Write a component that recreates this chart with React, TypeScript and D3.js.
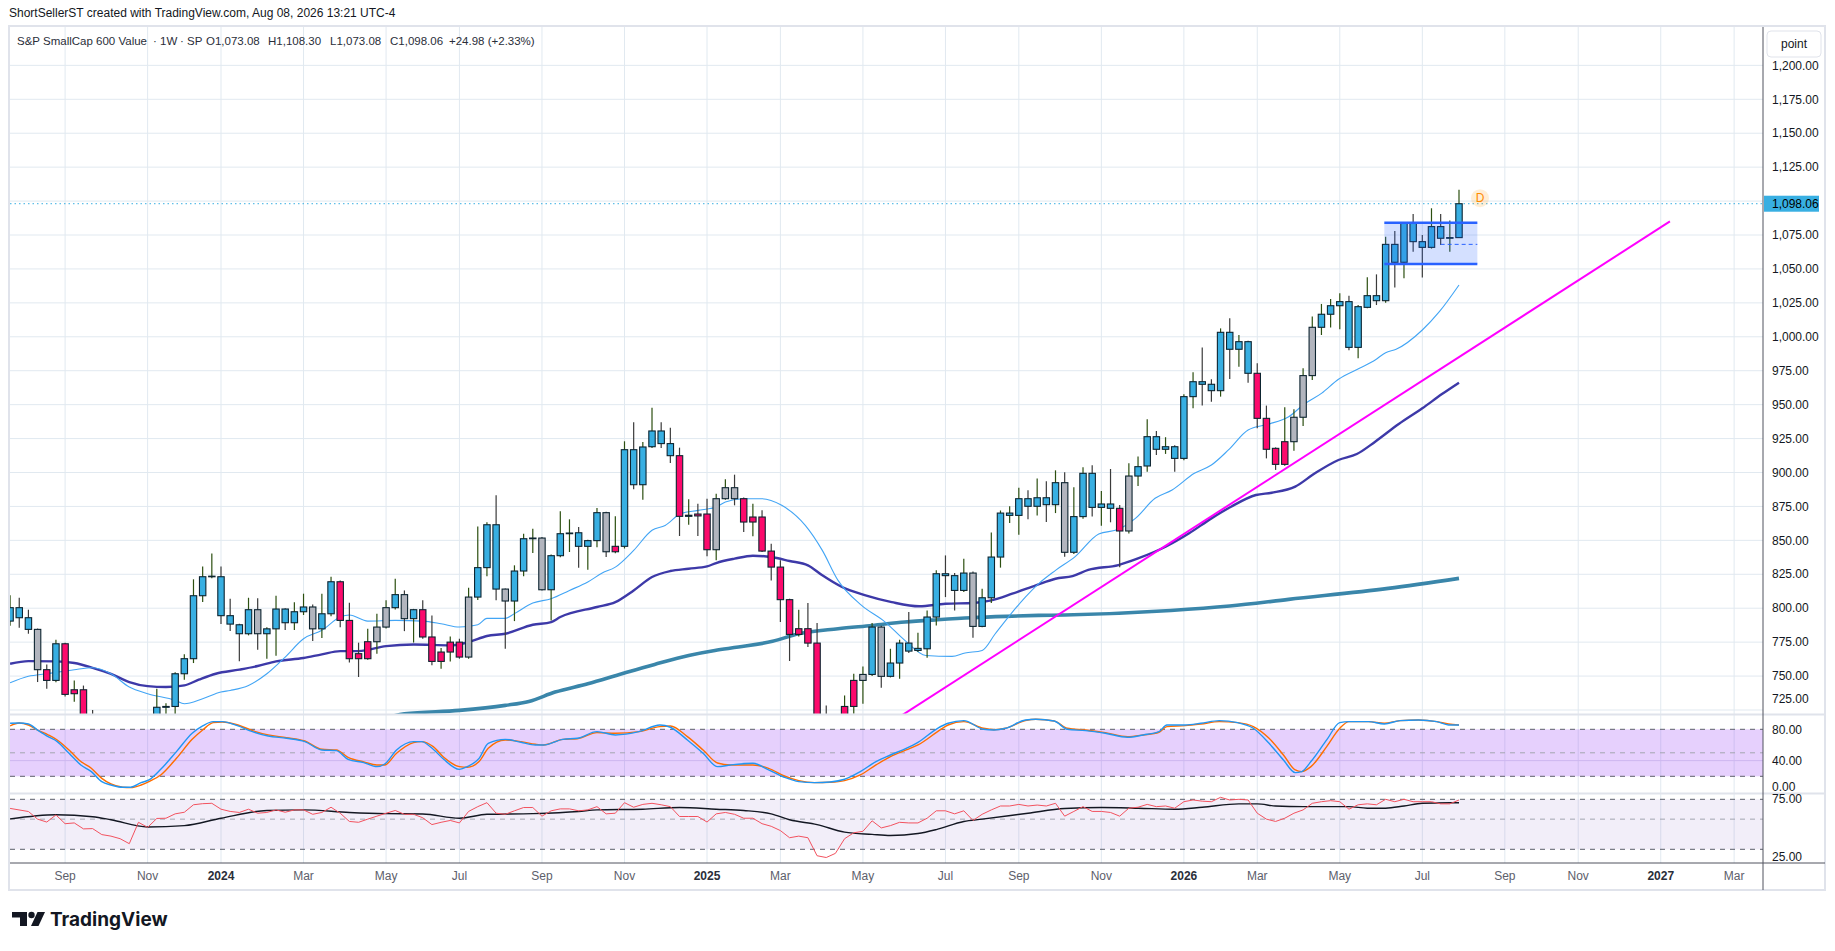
import * as d3 from 'd3';

// Weekly bars of S&P SmallCap 600 Value, first bar = week of 2023-07-24
const firstWeek = new Date(Date.UTC(2023, 6, 24));
const lastWeek = new Date(Date.UTC(2026, 7, 3));
// week offsets used by the indicator lists count from this Monday
const origin = new Date(Date.UTC(2024, 0, 1));

const opens = [
  790.5, 800.4, 793, 784.4, 754.7, 746.8, 773.8, 737, 739.9, 716,
  708, 695, 700, 684, 676, 708, 702, 727, 727.6, 751.7,
  762.8, 809.2, 823.2, 823.2, 794.5, 787.8, 781.2, 798.9, 781.2, 784.8,
  799.4, 789.3, 797.4, 800.9, 784.8, 795.9, 819.5, 791, 766.5, 762.8,
  775.3, 786.1, 800.4, 810, 792.3, 798.9, 778.8, 760.8, 767.7, 775,
  764, 808.2, 829.9, 861.5, 814.1, 805.3, 827.4, 851.2, 851.7, 813.6,
  838.7, 854.9, 855.6, 845.6, 849.8, 870.4, 841.6, 845.6, 916.8, 891,
  919, 930.6, 921.3, 912.4, 867.7, 869.4, 869.4, 843.1, 880.7, 888.8,
  880.7, 863.5, 867.2, 842.1, 830.3, 806.3, 780.7, 784.9, 774.3, 703,
  700, 706, 727.6, 746.8, 751.2, 786.1, 749.8, 759.6, 774.3, 768.9,
  770.1, 793.5, 825.4, 824, 813.1, 825.9, 786.6, 807.7, 837.7, 868.4,
  868.4, 880.7, 875.1, 881.4, 876.3, 892.5, 841.2, 867.5, 899.4, 874.3,
  876.8, 873.6, 856.9, 897.4, 904.8, 926.4, 917.1, 919, 910.4, 955.9,
  966.9, 965, 960.3, 1003.3, 990.8, 996.4, 973.1, 939.9, 917.8, 906,
  922.7, 940.7, 971.4, 1007, 1016.6, 1022.9, 1025.9, 992.2, 1021.7, 1030.3,
  1026.6, 1068.1, 1054.9, 1083.6, 1070.1, 1065.9, 1081.2, 1072.6, 1073.08,
];
const highs = [
  809.5, 807.7, 798.9, 785, 758.6, 776.7, 774.5, 746.8, 743, 725,
  712, 712, 705, 690, 712, 712, 740.7, 730, 752.8, 766,
  821.3, 830.8, 840.4, 830.8, 807, 788.5, 807.7, 807.3, 786, 809.2,
  800, 804.3, 810.7, 802.8, 810.7, 823.2, 820.5, 804, 774.6, 784.9,
  795.9, 805.8, 821.7, 813.1, 799.5, 805.8, 794.7, 770.6, 779.2, 777.5,
  815.1, 860.3, 863.3, 883.2, 814.5, 831.6, 854.9, 858.6, 852.5, 839.5,
  871.4, 865.5, 859.8, 850.5, 873.8, 871, 867.7, 923, 937, 922.5,
  947.8, 937, 933, 918.3, 880.2, 877, 880.7, 884.4, 895, 898.4,
  881.5, 877, 872.1, 847.5, 835.3, 807, 798.9, 803.8, 789.1, 728.4,
  718, 735.7, 751.7, 757.1, 789.1, 787, 770.1, 776.8, 797.2, 782,
  798.4, 827.9, 838.9, 826, 836.5, 827, 814.4, 855.7, 872, 875.1,
  888.8, 886.9, 895.5, 893.5, 901.6, 900.1, 889.1, 903.8, 905.3, 886.4,
  902.6, 876, 906.8, 911.7, 939.2, 930.6, 926, 920, 957.6, 973.8,
  992.2, 968.7, 1006.2, 1013.6, 1001.3, 997, 980.5, 949.3, 918.5, 948,
  946.6, 976.8, 1014.9, 1024.2, 1027.8, 1032, 1030.2, 1023.4, 1043.8, 1046,
  1073.8, 1078, 1084, 1090.5, 1075, 1094.7, 1090.5, 1085.6, 1108.3,
];
const lows = [
  787, 785.6, 781.2, 745.6, 740.7, 745.5, 735, 731, 712, 700,
  690, 692, 682, 672, 674, 698, 700, 719, 721, 747.3,
  759.6, 804.5, 822, 788.3, 783.2, 761, 780, 769.4, 762.8, 765,
  784, 784, 795, 775.8, 778, 794, 786, 760, 749.3, 762,
  766.5, 785, 799, 783.1, 774.7, 777.5, 757.9, 755.4, 760.8, 762.8,
  762.8, 806, 823.5, 805.8, 770.1, 790.5, 823.5, 840.7, 813, 791,
  837.6, 841.4, 829.9, 828.4, 845, 837.7, 840.5, 844, 887.6, 880,
  918, 918, 907, 853.2, 861.5, 853.2, 838.2, 835.3, 880, 875.8,
  856.1, 853, 841.4, 820.5, 789.8, 761.1, 779.2, 771.4, 700, 672,
  688, 700, 722.2, 729.6, 750, 741.4, 749, 748, 767, 767.7,
  763.5, 787.3, 808.2, 798.4, 812, 778.3, 786, 803.8, 829.9, 862.8,
  854.2, 865.5, 868.4, 863.5, 870.1, 838, 840, 866, 867.5, 860.8,
  863.3, 830.1, 855, 890.1, 900.6, 912.9, 913.7, 900.6, 909, 947.3,
  949.3, 952.2, 955.9, 968.9, 978, 966.2, 932.6, 910.4, 901.9, 905,
  916.1, 934.3, 968.2, 1001.3, 1006.8, 1005.5, 990, 984.1, 1021, 1023.4,
  1025, 1036.4, 1043.1, 1062.7, 1043.6, 1065, 1067.7, 1062.7, 1073.08,
];
const closes = [
  800.4, 793, 784.4, 754.7, 746.8, 773.8, 736.5, 739.9, 716, 708,
  695, 700, 684, 676, 708, 702, 727, 727.6, 751.7, 762.8,
  809.2, 823.2, 823.6, 794.5, 788.3, 781.2, 798.9, 781.2, 784.8, 799.4,
  789.3, 797.4, 800.9, 784.8, 795.9, 819.5, 791, 762.8, 762.8, 775.3,
  786.1, 800.4, 810, 792.3, 798.9, 778.8, 760.8, 767.7, 775, 764,
  808.2, 829.9, 861.5, 814.1, 805.3, 827.4, 851.2, 851.7, 813.6, 838.7,
  854.9, 855.4, 845.6, 849.8, 870.4, 841.6, 845.6, 916.8, 891, 918.8,
  930.6, 921.3, 912.4, 867.7, 868.5, 868, 843.1, 880.7, 888.8, 880.7,
  863.5, 867.2, 842.1, 830.3, 806.3, 780.7, 784.9, 774.3, 703, 700,
  706, 727.6, 746.8, 751.2, 786.1, 749.8, 759.6, 774.3, 768.4, 770.4,
  793.5, 825.4, 824, 813.1, 825.9, 786.6, 807.7, 837.7, 870.1, 870.1,
  880.7, 875.1, 881.4, 876.3, 892.5, 841.2, 867.5, 899.4, 874.3, 876.8,
  873.6, 856.9, 897.4, 904.3, 926.4, 917.1, 919, 910.4, 955.9, 966.9,
  965, 960.3, 1003.3, 990.8, 996.4, 973.1, 939.9, 917.1, 906, 922.7,
  940.7, 971.4, 1007, 1016.6, 1022.9, 1025.9, 992.2, 1022.2, 1030.3, 1026.6,
  1068.1, 1054.9, 1083.6, 1070.1, 1065.9, 1081.2, 1072.6, 1073.08, 1098.06,
];
// bar colouring of the chart: b = blue, p = pink, g = grey
const tones =
  'bbbgpbpppp' + 'ppppbbbbbb' + 'bbbbbbbgbb' + 'bbbgbbpppp' + 'ggbgbppppp' +
  'gbbbgbbbgb' + 'bbbbbgpbbb' + 'bbbpbppggg' + 'pppppppppp' + 'pppgbgbbbb' +
  'bbbbbgbbbb' + 'bbbbbgbbbb' + 'bpgbbbbbbb' + 'bbbbbbpppp' + 'gggbbbbbbb' +
  'bbbbbbbbb';

// moving averages on price, [week offset, value]
const maFast: [number, number][] = [
  [-23, 745], [-21, 749.8], [-19, 751.7], [-16, 754.7], [-14, 756.1], [-12, 751.7], [-10, 741.9],
  [-8, 737], [-5, 732.1], [-4, 729.6], [-2, 733.3], [0, 738.2], [1, 739.4], [3, 743.1], [5, 751.7],
  [7, 764], [9, 777.5], [11, 783.7], [13, 793.5], [14, 795], [16, 790.5], [19, 791], [22, 790.5],
  [24, 788.6], [26, 786.1], [28, 787.8], [29, 792.5], [31, 792.5], [32, 796], [34, 803.8], [36, 807],
  [38, 813.1], [40, 819.3], [41.5, 825.9], [43, 830.3], [45, 842.6], [47, 857.4], [48.4, 861],
  [50.2, 869.7], [52, 872.1], [54, 874.6], [55, 878.3], [57, 880.7], [59, 880.7], [61.2, 875.8],
  [63.7, 861], [65.5, 842.6], [67.3, 820.5], [69.9, 802.1], [72.4, 789.8], [74.6, 776.3], [76.8, 765.2],
  [79.7, 764.5], [81.1, 767], [83, 768.9], [84.4, 781.2], [85.9, 793.5], [87.7, 808.2], [89.2, 818],
  [91, 827.9], [93.1, 838], [95.7, 854.7], [97.9, 858.1], [99.7, 866.2], [101.9, 881], [103.7, 887.1],
  [106.2, 899.4], [108, 905.5], [109.9, 916.6], [112, 931.3], [114.2, 935.5], [116.4, 941.1],
  [118.2, 950.5], [120, 958.3], [121.9, 968.7], [124.1, 976.8], [125.9, 982.9], [127, 988.3],
  [128.1, 990.8], [131, 1005], [132.8, 1018.5], [135, 1038.2],
];
const maMid: [number, number][] = [
  [-23, 759.1], [-21, 761], [-18, 760.8], [-16, 759.6], [-14, 756.1], [-12, 751.7], [-10, 745.6],
  [-8, 742.6], [-6, 741.9], [-4, 743.1], [-2.5, 747.3], [-0.6, 751.7], [2, 754.7], [4, 757.4],
  [6, 760.8], [9, 763.3], [11, 766], [13, 768.4], [15, 768.4], [18, 772.1], [21, 773.3], [25, 772.6],
  [27, 775], [29, 779.5], [31, 781.2], [34, 787.8], [36, 789.8], [37, 793.5], [41, 800.9], [43, 804.5],
  [45, 813.1], [47, 823], [49, 827.4], [51, 829.1], [53, 830.8], [54, 833.3], [56, 836.5], [58, 838.7],
  [60, 837.7], [62, 834.8], [64, 831.6], [65.5, 824.2], [67.7, 815.6], [70.3, 809.5], [73.2, 804.5],
  [76.1, 801.4], [79, 803.3], [82, 803.8], [84, 805.8], [86.3, 810.7], [88.8, 816.8], [91, 821.7],
  [92.8, 823.7], [94.6, 828.2], [97.9, 831.8], [100, 836.7], [103, 845.3], [105.5, 855.2], [108, 866.2],
  [110.2, 874.8], [112.8, 883.4], [114.6, 885.1], [117.1, 889.6], [119.3, 899.4], [121.9, 909.2],
  [123.8, 913.6], [125.9, 922.7], [128.4, 935.7], [131, 947.3], [133.1, 957.8], [135, 966.2],
];
const maSlow: [number, number][] = [
  [17, 717], [20, 722.2], [26, 724.7], [31, 728.4], [33.5, 731.3], [36.4, 738.2], [40, 744.3],
  [43.7, 751.7], [47.3, 758.6], [51, 765.2], [53.9, 768.9], [56.4, 771.4], [60.1, 775.6], [63, 781.2],
  [67.3, 784.9], [71, 787.3], [74.6, 789.8], [78.2, 791.5], [81.9, 793], [85.5, 794], [89.2, 794.7],
  [92, 795], [103.5, 798.3], [110, 801.6], [116.4, 806.5], [127.3, 814.6], [135, 822],
];

// stochastic %K / %D
const stochK: [number, number][] = [
  [-23, 87.7], [-22, 88], [-21, 86.8], [-20, 79], [-18.9, 70.6], [-17.8, 64.3], [-16.6, 49.4],
  [-15.3, 34.5], [-14.1, 26], [-13, 13.2], [-12, 8.9], [-10.7, 6], [-9.9, 6], [-8.7, 11.9],
  [-7.8, 15.3], [-6.6, 28.9], [-4.9, 51.5], [-3.2, 74.9], [-2, 84.3], [-0.9, 89.8], [0.1, 89.8],
  [1.8, 84.3], [3.4, 77], [5.1, 71.5], [7.2, 68.5], [9.1, 64.3], [11, 53.6], [12.6, 52.8], [13.9, 41.7],
  [15.6, 37.4], [17, 32.3], [17.8, 35.7], [19.1, 53.6], [21, 64.3], [21.8, 64.3], [23.1, 54.5],
  [24.3, 41.7], [26, 28.9], [26.8, 32.3], [28.1, 42.9], [29.1, 62.1], [31, 67.2], [32.7, 63.4],
  [34.3, 60], [35.2, 60], [37.3, 67.2], [38.9, 68.5], [41, 77], [43, 72.8], [45.5, 77], [47.8, 85.5],
  [49, 82.6], [50.9, 66.4], [52.6, 49.4], [54.1, 32.3], [55.5, 34.5], [58, 36.6], [59.7, 28.1],
  [61.4, 18.7], [63, 13.2], [64.7, 11.9], [66.4, 12.8], [68, 16.2], [69.7, 26], [71.4, 38.8], [73, 47.2],
  [74.7, 55.7], [76, 63.4], [78.1, 81.3], [79.3, 87.7], [81, 91.1], [83.1, 80], [84.3, 79.1],
  [85.6, 81.3], [87.7, 91.9], [88.9, 92.8], [90.8, 90.6], [92.3, 80], [94.3, 78.3], [96.4, 74.9],
  [98.9, 69.8], [100.6, 72.8], [102.3, 77], [103.1, 85.5], [105.2, 85.5], [106.8, 87.7], [108.8, 91.1],
  [110.9, 88.5], [112.6, 81.3], [114.3, 62.1], [115.9, 40.8], [117.2, 24.7], [117.8, 26], [118.9, 38.8],
  [120.5, 66.4], [122, 88.5], [123, 89.8], [125.1, 89.8], [126.8, 86.8], [128.5, 91.1], [130.5, 91.9],
  [132.6, 89.8], [133.9, 85.5], [135, 85.5],
];
const stochD: [number, number][] = [
  [-23, 84.3], [-22, 88], [-21, 85.5], [-20, 79], [-18.9, 73], [-17.8, 66.4], [-16.6, 53.6],
  [-15.3, 38.8], [-14.1, 30.2], [-13, 17.4], [-12, 10.2], [-10.7, 6], [-9.9, 5.6], [-8.7, 8.9],
  [-7.8, 13.2], [-6.6, 21.7], [-4.9, 43], [-3.2, 67.2], [-2, 79.1], [-0.9, 88.5], [0.1, 89.4],
  [1.8, 85.5], [3.4, 78.3], [5.1, 72.8], [7.2, 69.4], [9.1, 65.1], [11, 54.5], [12.6, 53.6], [13.9, 44.3],
  [15.6, 38.3], [17, 34.5], [17.8, 34.5], [19.1, 49.4], [21, 63], [21.8, 64.3], [23.1, 57.9],
  [24.3, 44.3], [26, 32.3], [26.8, 31.5], [28.1, 38.8], [29.1, 55.7], [31, 66.4], [32.7, 64.3],
  [34.3, 60.9], [35.2, 60], [37.3, 67.2], [38.9, 68], [41, 75.7], [43, 74.9], [45.5, 77], [47.8, 83.4],
  [49, 84.3], [50.9, 70.6], [52.6, 53.6], [54.1, 37], [55.5, 34.5], [58, 34.5], [59.7, 30.2],
  [61.4, 20.4], [63, 14.5], [64.7, 11.9], [66.4, 12.4], [68, 14.5], [69.7, 21.7], [71.4, 34.5], [73, 45.1],
  [74.7, 53.6], [76, 60], [78.1, 77], [79.3, 85.5], [81, 89.8], [83.1, 81.3], [84.3, 79.5],
  [85.6, 81.3], [87.7, 91.1], [88.9, 92.8], [90.8, 90.6], [92.3, 81.3], [94.3, 79.1], [96.4, 75.7],
  [98.9, 70.6], [100.6, 72.8], [102.3, 76.2], [103.1, 83.4], [105.2, 84.7], [106.8, 86.8], [108.8, 89.8],
  [110.9, 88.5], [112.6, 83.4], [114.3, 68.5], [115.9, 47.2], [117.2, 28.1], [117.8, 26], [118.9, 32.3],
  [120.5, 57.9], [122, 81.3], [123, 89.8], [125.1, 89.8], [126.8, 87.7], [128.5, 91.1], [130.5, 91.9],
  [132.6, 89.8], [133.9, 86.8], [135, 85.5],
];

// RSI and its moving average (log-scaled pane)
const rsiLine: [number, number][] = [
  [-23, 60], [-21, 56.9], [-20, 50], [-19, 47.6], [-18, 53.7], [-17, 46.3], [-16, 46.9], [-15, 42.4],
  [-14, 42.6], [-13, 38.5], [-12, 37.5], [-11, 35.9], [-10, 33], [-9, 47.4], [-8, 43.5], [-7, 50.6],
  [-6, 50.8], [-5, 54.7], [-4, 56.2], [-3, 63.8], [-2, 65], [-1, 65.4], [0, 59.2], [1, 57], [2, 56],
  [3, 59.2], [4, 55.3], [5, 56], [6, 58.5], [7, 56.2], [8, 58.5], [9, 58.5], [10, 54.3], [11, 56],
  [12, 61.2], [13, 55.3], [14, 48.1], [15, 47.4], [16, 50], [17, 52.6], [18, 55.3], [19, 57.9],
  [20, 54.3], [21, 54.3], [22, 51.2], [23, 45.6], [24, 47.4], [25, 48.9], [26, 46.9], [27, 57],
  [28, 61.8], [29, 66.1], [30, 55.3], [31, 54.3], [32, 57.6], [33, 60.9], [34, 60.9], [35, 52.6],
  [36, 57.6], [37, 59.5], [38, 59.5], [39, 57.6], [40, 58.5], [41, 61.8], [42, 54.7], [43, 55.3],
  [44, 66.1], [45, 61.2], [46, 64.2], [47, 65.4], [48, 63.8], [49, 61.8], [50, 52.3], [51, 52.3],
  [52, 52.3], [53, 47.6], [54, 54.7], [55, 56], [56, 54.3], [57, 50.8], [58, 50.8], [59, 46.3],
  [60, 44.3], [61, 41.2], [62, 36.5], [63, 37.5], [64, 36.5], [65, 26.9], [66, 26.1], [67, 28],
  [68, 35.9], [69, 39.7], [70, 40.7], [71, 48.6], [72, 43.1], [73, 44.8], [74, 47.4], [75, 46.9],
  [76, 46.9], [77, 50.8], [78, 57.6], [79, 57.6], [80, 54.7], [81, 57.6], [82, 48.9], [83, 54.3],
  [84, 58.5], [85, 62.5], [86, 62.5], [87, 64.2], [88, 62.5], [89, 63.5], [90, 62.5], [91, 65.4],
  [92, 52.6], [93, 57], [94, 61.8], [95, 57], [96, 57], [97, 56], [98, 52.6], [99, 60.2], [100, 61.2],
  [101, 64.2], [102, 61.8], [103, 62.5], [104, 60.2], [105, 67.2], [106, 69.2], [107, 67.8],
  [108, 67.2], [109, 72.4], [110, 69.2], [111, 70], [112, 69.2], [113, 55.3], [114, 50], [115, 48.1],
  [116, 50.8], [117, 55.3], [118, 58.5], [119, 65.4], [120, 67.2], [121, 68.4], [122, 67.2],
  [123, 59.2], [124, 63.8], [125, 64.8], [126, 63.8], [127, 70], [128, 67.2], [129, 70], [130, 67.2],
  [131, 67.2], [132, 67.2], [133, 64.8], [134, 64.8], [135, 69.2],
];
const rsiAvg: [number, number][] = [
  [-23, 50.2], [-18, 53.9], [-14, 52.1], [-12, 49.5], [-8, 43.8], [-4, 44.8], [0, 50.8], [5, 57.9],
  [9, 58.5], [14, 56], [18, 54.9], [22, 54.6], [26, 50.8], [29, 54.3], [34, 54.9], [39, 56.9],
  [41, 58.5], [46, 59.2], [50, 60.9], [54, 59.2], [57, 57.9], [60, 54.7], [62, 49.5], [65, 45.6],
  [68, 40.1], [71, 38.6], [73, 37.9], [76, 39.2], [78, 41.9], [81, 48.1], [83, 50], [88, 55.3],
  [92, 59.9], [96, 60.9], [100, 60.2], [104, 59.2], [107, 61.2], [111, 64.8], [113, 64.8], [115, 62.5],
  [118, 61.8], [123, 61.8], [125, 60.2], [127, 60.2], [129, 62.5], [131, 65.4], [134, 66.1], [135, 66.1],
];

// drawings
const trendline: [number, number][] = [[74, 720], [158, 1085]];
const boxWeeks = [126.8, 137];
const boxPrices = [1084.1, 1053.6];
const boxMid = { from: 133, price: 1068.1 };
const lastPrice = 1098.06;

const priceTicks = [725, 750, 775, 800, 825, 850, 875, 900, 925, 950, 975, 1000, 1025, 1050, 1075, 1100, 1125, 1150, 1175, 1200];
const timeTicks = [
  '2023-09', '2023-11', '2024-01', '2024-03', '2024-05', '2024-07', '2024-09', '2024-11',
  '2025-01', '2025-03', '2025-05', '2025-07', '2025-09', '2025-11', '2026-01', '2026-03',
  '2026-05', '2026-07', '2026-09', '2026-11', '2027-01', '2027-03',
];
const stochBands = [80, 50, 20];
const rsiBands = [70, 50, 30];
const stochLabels = [80, 40, 0];
const rsiLabels = [75, 25];

// layout
const W = 1835;
const H = 951;
const left = 10;
const axisX = 1763;
const frameRight = 1825;
const mainTop = 27;
const mainBottom = 714;
const stochTop = 715;
const stochBottom = 793;
const rsiTop = 794;
const rsiBottom = 863;
const axisBottom = 890;
const font = "'Liberation Sans', Arial, sans-serif";

const weekDate = (w: number) => d3.utcDay.offset(origin, Math.round(w * 7));
const x = d3.scaleUtc().domain([origin, lastWeek]).range([221, 1459]);
const y = d3.scaleLinear().domain([900, 1175]).range([472.5, 99.3]);
const yStoch = d3.scaleLinear().domain([20, 80]).range([776.3, 729.3]);
const yRsi = d3.scaleLog().domain([30, 70]).range([849.3, 799.3]);
const fmt = d3.format(',.2f');

const bars = d3.utcMonday.range(firstWeek, d3.utcDay.offset(lastWeek, 1));
const toneFill: Record<string, string> = { b: '#38afe2', p: '#fc0a6c', g: '#b2b5be' };

const tickDates = timeTicks.map((s) => {
  const [yr, mo] = s.split('-').map(Number);
  return { date: d3.utcMonday.ceil(new Date(Date.UTC(yr, mo - 1, 1))), year: mo === 1, text: mo === 1 ? String(yr) : d3.utcFormat('%b')(new Date(Date.UTC(yr, mo - 1, 1))) };
});

const pathFor = (pts: [number, number][], yScale: (v: number) => number, curve: d3.CurveFactory) =>
  d3.line<[number, number]>()
    .x((d) => x(weekDate(d[0])))
    .y((d) => yScale(d[1]))
    .curve(curve)(pts) || '';

// axis labels sitting on a pane edge are nudged inside their pane (they are clipped there)
const edgeLabelY = (v: number, yy: number, top: number, bottom: number) =>
  Math.max(top + 5, Math.min(bottom - 6, yy));

const App = () => {
  const bw = 6.4;
  const lastX = x(lastWeek);
  return (
    <div style={{ position: 'absolute', left: 0, top: 0 }}>
      <svg width={W} height={H} style={{ display: 'block', background: '#fff' }} fontFamily={font}>
        <defs>
          <clipPath id="clip-main"><rect x={left} y={mainTop} width={axisX - left} height={mainBottom - mainTop} /></clipPath>
          <clipPath id="clip-stoch"><rect x={left} y={stochTop} width={axisX - left} height={stochBottom - stochTop} /></clipPath>
          <clipPath id="clip-rsi"><rect x={left} y={rsiTop} width={axisX - left} height={rsiBottom - rsiTop} /></clipPath>
          <clipPath id="clip-axis-main"><rect x={axisX} y={mainTop} width={frameRight - axisX} height={mainBottom - mainTop} /></clipPath>
          <clipPath id="clip-axis-stoch"><rect x={axisX} y={stochTop} width={frameRight - axisX} height={stochBottom - stochTop} /></clipPath>
          <clipPath id="clip-axis-rsi"><rect x={axisX} y={rsiTop} width={frameRight - axisX} height={rsiBottom - rsiTop} /></clipPath>
        </defs>

        <text x={9} y={17} fontSize={12} fill="#131722">ShortSellerST created with TradingView.com, Aug 08, 2026 13:21 UTC-4</text>

        <rect x={9} y={mainTop - 1} width={frameRight - 9} height={axisBottom - mainTop + 1} fill="none" stroke="#e0e3eb" strokeWidth={2} />

        {/* main pane */}
        <g clipPath="url(#clip-main)">
          {tickDates.map((t) => (
            <line key={t.text + t.date.getTime()} x1={x(t.date)} x2={x(t.date)} y1={mainTop} y2={mainBottom} stroke="#e1e9f0" />
          ))}
          {priceTicks.map((p) => (
            <line key={p} x1={left} x2={axisX} y1={y(p)} y2={y(p)} stroke="#e1e9f0" />
          ))}
          <line x1={left} x2={axisX} y1={y(lastPrice)} y2={y(lastPrice)} stroke="#38afe2" strokeDasharray="1.5,3" />
          <path d={pathFor(maSlow, y, d3.curveMonotoneX)} fill="none" stroke="#3a86aa" strokeWidth={3.6} />
          <path d={pathFor(maMid, y, d3.curveMonotoneX)} fill="none" stroke="#3d39a8" strokeWidth={2.4} />
          <path d={pathFor(maFast, y, d3.curveMonotoneX)} fill="none" stroke="#42a5f5" strokeWidth={1.1} />
          <path d={pathFor(trendline, y, d3.curveLinear)} fill="none" stroke="#ff00ff" strokeWidth={2} />
          {bars.map((d, i) => {
            const o = opens[i], c = closes[i];
            const cx = x(d);
            const top = y(Math.max(o, c));
            const h = Math.max(0.6, Math.abs(y(o) - y(c)));
            return (
              <g key={i}>
                <line x1={cx} x2={cx} y1={y(highs[i])} y2={y(lows[i])} stroke={c >= o ? '#2c4f10' : '#3b3b3b'} strokeWidth={1.2} />
                <rect x={cx - bw / 2} y={top} width={bw} height={h} fill={toneFill[tones[i]]} stroke="#0d2430" strokeWidth={1.1} />
              </g>
            );
          })}
          <rect x={x(weekDate(boxWeeks[0]))} y={y(boxPrices[0])} width={x(weekDate(boxWeeks[1])) - x(weekDate(boxWeeks[0]))}
            height={y(boxPrices[1]) - y(boxPrices[0])} fill="rgba(41,98,255,0.2)" />
          {boxPrices.map((p) => (
            <line key={p} x1={x(weekDate(boxWeeks[0]))} x2={x(weekDate(boxWeeks[1]))} y1={y(p)} y2={y(p)} stroke="#2962ff" strokeWidth={2.5} />
          ))}
          <line x1={x(weekDate(boxMid.from))} x2={x(weekDate(boxWeeks[1]))} y1={y(boxMid.price)} y2={y(boxMid.price)} stroke="#2962ff" strokeDasharray="4,3" />
        </g>
        <circle cx={lastX + 21} cy={y(lastPrice) - 5.5} r={9} fill="rgba(255,152,0,0.16)" />
        <text x={lastX + 21} y={y(lastPrice) - 1.5} fontSize={12} fill="#ff8a00" textAnchor="middle">D</text>

        {/* legend */}
        <g fontSize={11.5} fill="#2a2e39">
          <text x={17} y={45}>S&amp;P SmallCap 600 Value</text>
          <text x={153} y={45}>·</text>
          <text x={160} y={45}>1W</text>
          <text x={180} y={45}>·</text>
          <text x={187} y={45}>SP</text>
          <text x={206} y={45}>O{fmt(opens[opens.length - 1])}</text>
          <text x={268} y={45}>H{fmt(highs[highs.length - 1])}</text>
          <text x={330} y={45}>L{fmt(lows[lows.length - 1])}</text>
          <text x={390} y={45}>C{fmt(closes[closes.length - 1])}</text>
          <text x={449} y={45}>+24.98 (+2.33%)</text>
        </g>

        {/* stochastic pane */}
        <g clipPath="url(#clip-stoch)">
          {tickDates.map((t) => (
            <line key={t.text + t.date.getTime()} x1={x(t.date)} x2={x(t.date)} y1={stochTop} y2={stochBottom} stroke="#e1e9f0" />
          ))}
          <rect x={left} y={yStoch(80)} width={axisX - left} height={yStoch(20) - yStoch(80)} fill="rgba(150,60,245,0.24)" />
          <line x1={left} x2={axisX} y1={yStoch(40)} y2={yStoch(40)} stroke="#cdb6ef" />
          {stochBands.map((b) => (
            <line key={b} x1={left} x2={axisX} y1={yStoch(b)} y2={yStoch(b)} stroke={b === 50 ? '#a3a6b0' : '#5d606b'} strokeDasharray="5,5" />
          ))}
          <path d={pathFor(stochD, yStoch, d3.curveMonotoneX)} fill="none" stroke="#ff6d00" strokeWidth={1.4} />
          <path d={pathFor(stochK, yStoch, d3.curveMonotoneX)} fill="none" stroke="#2196f3" strokeWidth={1.4} />
        </g>

        {/* RSI pane */}
        <g clipPath="url(#clip-rsi)">
          {tickDates.map((t) => (
            <line key={t.text + t.date.getTime()} x1={x(t.date)} x2={x(t.date)} y1={rsiTop} y2={rsiBottom} stroke="#e1e9f0" />
          ))}
          <rect x={left} y={yRsi(70)} width={axisX - left} height={yRsi(30) - yRsi(70)} fill="rgba(126,87,194,0.1)" />
          {rsiBands.map((b) => (
            <line key={b} x1={left} x2={axisX} y1={yRsi(b)} y2={yRsi(b)} stroke={b === 50 ? '#a3a6b0' : '#5d606b'} strokeDasharray="5,5" />
          ))}
          <path d={pathFor(rsiAvg, yRsi, d3.curveMonotoneX)} fill="none" stroke="#131722" strokeWidth={1.4} />
          <path d={pathFor(rsiLine, yRsi, d3.curveLinear)} fill="none" stroke="#f2525f" strokeWidth={1} />
        </g>

        {/* pane separators and axes */}
        <line x1={left} x2={frameRight} y1={mainBottom + 0.5} y2={mainBottom + 0.5} stroke="#e0e3eb" strokeWidth={2} />
        <line x1={left} x2={frameRight} y1={stochBottom + 0.5} y2={stochBottom + 0.5} stroke="#e0e3eb" strokeWidth={2} />
        <line x1={left} x2={frameRight} y1={rsiBottom} y2={rsiBottom} stroke="#50535e" />
        <line x1={axisX} x2={axisX} y1={mainTop} y2={axisBottom} stroke="#50535e" />

        <g fontSize={12} fill="#131722">
          <g clipPath="url(#clip-axis-main)">
            {priceTicks.map((p) => (
              <text key={p} x={axisX + 9} y={Math.min(y(p), mainBottom - 15)} dy="0.35em">{fmt(p)}</text>
            ))}
          </g>
          <g clipPath="url(#clip-axis-stoch)">
            {stochLabels.map((v) => (
              <text key={v} x={axisX + 9} y={edgeLabelY(v, yStoch(v), stochTop, stochBottom)} dy="0.35em">{fmt(v)}</text>
            ))}
          </g>
          <g clipPath="url(#clip-axis-rsi)">
            {rsiLabels.map((v) => (
              <text key={v} x={axisX + 9} y={edgeLabelY(v, yRsi(v), rsiTop, rsiBottom)} dy="0.35em">{fmt(v)}</text>
            ))}
          </g>
        </g>

        <rect x={axisX + 4} y={mainTop + 4} width={54} height={26} rx={4} fill="#fff" stroke="#e0e3eb" />
        <text x={axisX + 31} y={mainTop + 17} dy="0.35em" fontSize={12} fill="#131722" textAnchor="middle">point</text>

        <rect x={axisX + 1} y={y(lastPrice) - 8} width={55} height={16} fill="#38afe2" />
        <text x={axisX + 9} y={y(lastPrice)} dy="0.35em" fontSize={12} fill="#000">{fmt(lastPrice)}</text>

        {tickDates.map((t) => (
          <text key={t.text + t.date.getTime()} x={x(t.date)} y={876} dy="0.35em" fontSize={12}
            textAnchor="middle" fill={t.year ? '#2a2e39' : '#5d606b'} fontWeight={t.year ? 700 : 400}>{t.text}</text>
        ))}

        {/* TradingView mark */}
        <g fill="#131722">
          <path d="M12,912 H27 V926 H20 V917.5 H12 Z" />
          <circle cx={31.5} cy={915} r={3.2} />
          <path d="M37.5,912 H45 L38.5,926 H31 Z" />
          <text x={50} y={926} fontSize={19} fontWeight={700} fontFamily="Inter, 'Liberation Sans', sans-serif">TradingView</text>
        </g>
      </svg>
    </div>
  );
};

export default App;
